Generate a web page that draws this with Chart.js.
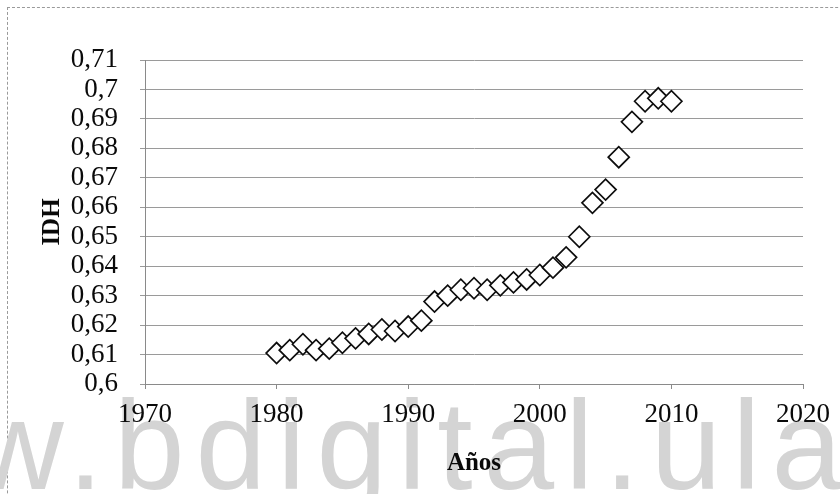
<!DOCTYPE html>
<html>
<head>
<meta charset="utf-8">
<script src="https://cdn.jsdelivr.net/npm/chart.js@4/dist/chart.umd.min.js"></script>
<style>
  html, body { margin: 0; padding: 0; background: #ffffff; }
  #wrap { position: relative; width: 840px; height: 494px; overflow: hidden; background: #fff; }
  #frame { position: absolute; left: 7px; top: 7px; width: 900px; height: 600px; border-top: 1px dashed #9a9a9a; border-left: 1px dashed #9a9a9a; }
  #wm { position: absolute; left: -28px; top: 382px; font-family: "Liberation Sans", Arial, sans-serif; font-size: 127px; color: #d4d4d4; white-space: nowrap; letter-spacing: 11px; line-height: 1; }
  #c { position: absolute; left: 0; top: 0; }
</style>
</head>
<body>
<div id="wrap">
  <div id="frame"></div>
  <div id="wm">w.bdigital.ula</div>
  <canvas id="c" width="840" height="494"></canvas>
</div>
<script>
// ---- data ----
const years = [1980, 1981, 1982, 1983, 1984, 1985, 1986, 1987, 1988, 1989,
               1990, 1991, 1992, 1993, 1994, 1995, 1996, 1997, 1998, 1999,
               2000, 2001, 2002, 2003, 2004, 2005, 2006, 2007, 2008, 2009, 2010];
const idh = [0.6105, 0.6115, 0.6135, 0.6115, 0.612, 0.614, 0.6155, 0.617, 0.6185, 0.618,
             0.6195, 0.6215, 0.628, 0.630, 0.632, 0.6325, 0.632, 0.6335, 0.6345, 0.6355,
             0.637, 0.6395, 0.643, 0.650, 0.6615, 0.666, 0.677, 0.689, 0.696, 0.697, 0.696];
const xTicks = [1970, 1980, 1990, 2000, 2010, 2020];
const yMin = 0.6, yMax = 0.71, yStep = 0.01;
const xTitle = "Años";
const yTitle = "IDH";

const points = years.map((y, i) => ({ x: y, y: idh[i] }));

const serif = "'Liberation Serif', 'Times New Roman', serif";

new Chart(document.getElementById('c'), {
  type: 'scatter',
  data: {
    datasets: [{
      data: points,
      pointStyle: 'rectRot',
      pointRadius: 10.5,
      pointBorderWidth: 1.7,
      pointBorderColor: '#0d0d0d',
      pointBackgroundColor: '#ffffff',
      showLine: false
    }]
  },
  options: {
    responsive: false,
    animation: false,
    devicePixelRatio: 1,
    layout: { padding: { left: 34, right: 35, top: 60, bottom: 0 } },
    plugins: { legend: { display: false }, tooltip: { enabled: false } },
    scales: {
      x: {
        type: 'linear',
        min: 1970, max: 2020,
        afterBuildTicks: (s) => { s.ticks = xTicks.map(v => ({ value: v })); },
        afterFit: (s) => { s.height = 110; },
        border: { display: true, color: '#8a8a8a', width: 1 },
        grid: { drawOnChartArea: false, drawTicks: true, tickLength: 5, color: '#8a8a8a' },
        ticks: {
          color: '#0a0a0a', padding: 10, autoSkip: false, maxRotation: 0,
          font: { family: serif, size: 27 },
          callback: (v) => String(v)
        },
        title: {
          display: true, text: xTitle, color: '#0a0a0a',
          font: { family: serif, size: 25, weight: 'bold' },
          padding: { top: 4, bottom: 15 }
        }
      },
      y: {
        min: yMin, max: yMax,
        afterBuildTicks: (s) => {
          const t = [];
          for (let i = 0; i <= Math.round((yMax - yMin) / yStep); i++) t.push({ value: +(yMin + i * yStep).toFixed(2) });
          s.ticks = t;
        },
        afterFit: (s) => { s.width = 145 - 34; },
        border: { display: true, color: '#8a8a8a', width: 1 },
        grid: { drawOnChartArea: true, drawTicks: true, tickLength: 5, color: '#9a9a9a', lineWidth: 1 },
        ticks: {
          color: '#0a0a0a', padding: 22, autoSkip: false,
          font: { family: serif, size: 27, lineHeight: 1 },
          callback: (v) => String(Number(v.toFixed(2))).replace('.', ',')
        },
        title: {
          display: true, text: yTitle, color: '#0a0a0a',
          font: { family: serif, size: 25, weight: 'bold' },
          padding: { top: 4, bottom: 4 }
        }
      }
    }
  }
});
</script>
</body>
</html>
